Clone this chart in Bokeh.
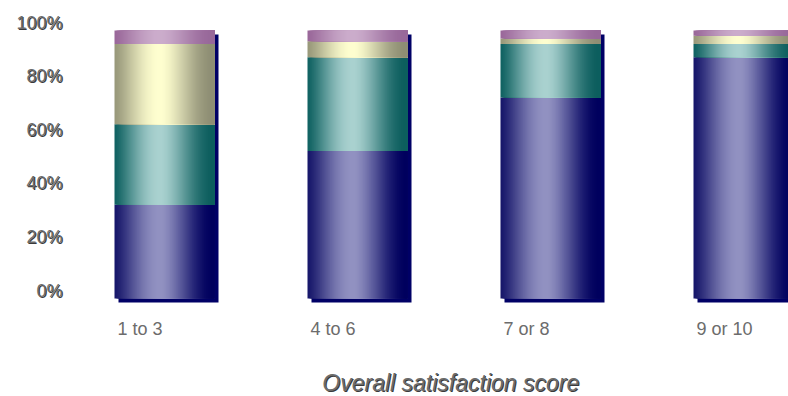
import numpy as np
from bokeh.plotting import figure
from bokeh.models import Range1d, ColumnDataSource
from bokeh.core.properties import value
from bokeh.embed import file_html
from bokeh.resources import INLINE

# ---- data -------------------------------------------------------------
categories = ["1 to 3", "4 to 6", "7 or 8", "9 or 10"]
# percentage shares, stacked from the bottom segment upwards
share_navy = [35, 55, 75, 90]
share_teal = [30, 35, 20, 5]
share_cream = [30, 6, 2, 3]
share_mauve = [5, 4, 3, 2]
y_ticks = [0, 20, 40, 60, 80, 100]
y_tick_labels = ["0%", "20%", "40%", "60%", "80%", "100%"]
x_title = "Overall  satisfaction score"

# ---- layout (pixels) --------------------------------------------------
W, H = 788, 396
PX_PER_CAT = 193.0      # horizontal distance between bar centres
PX_PER_PCT = 2.68       # vertical pixels per percentage point
X0_PX = 164.0           # centre of first bar
Y0_PX = 298.0           # baseline of bars
BAR_W = 100.0 / PX_PER_CAT

x_range = Range1d(-X0_PX / PX_PER_CAT, (W - X0_PX) / PX_PER_CAT)
y_range = Range1d((Y0_PX - H) / PX_PER_PCT, Y0_PX / PX_PER_PCT)

p = figure(width=W, height=H, x_range=x_range, y_range=y_range,
           output_backend="svg", toolbar_location=None,
           min_border=0, min_border_left=0, min_border_right=0,
           min_border_top=0, min_border_bottom=0)
p.axis.visible = False
p.grid.visible = False
p.outline_line_color = None
p.background_fill_color = "white"
p.border_fill_color = "white"

# ---- bar shadows ------------------------------------------------------
xs = np.arange(len(categories), dtype=float)
totals = np.array(share_navy) + np.array(share_teal) + np.array(share_cream) + np.array(share_mauve)
dx = 4.0 / PX_PER_CAT
dy = 4.0 / PX_PER_PCT
p.quad(left=xs - BAR_W / 2 + dx, right=xs + BAR_W / 2 + dx,
       bottom=np.zeros_like(xs) - dy, top=totals - dy,
       fill_color="#000066", line_color=None)

# ---- cylinder-like horizontal shading ---------------------------------
def hex_rgb(h):
    h = h.lstrip("#")
    return np.array([int(h[i:i + 2], 16) for i in (0, 2, 4)], dtype=float)

def shade(left_c, peak_c, right_c, t, peak=0.46):
    l, m, r = hex_rgb(left_c), hex_rgb(peak_c), hex_rgb(right_c)
    if t <= peak:
        u = t / peak
        u = np.sin(u * np.pi / 2) ** 1.3
        c = l + (m - l) * u
    else:
        u = (t - peak) / (1 - peak)
        u = np.sin(u * np.pi / 2) ** 1.6
        c = m + (r - m) * u
    c = np.clip(c, 0, 255).astype(int)
    return "#%02x%02x%02x" % tuple(c)

series = [
    (share_navy, ("#16166a", "#9292c2", "#00005e")),
    (share_teal, ("#106262", "#aad2d0", "#0c5e5e")),
    (share_cream, ("#98987a", "#ffffd0", "#8e8e74")),
    (share_mauve, ("#9a689a", "#ccadcc", "#98689a")),
]

# Each strip runs from its own start to the bar's right edge; later strips
# paint over earlier ones, so no seams appear between neighbours.
N = 50
L, R, B, T, C = [], [], [], [], []
bottoms = np.zeros(len(categories))
for vals, (lc, pc, rc) in series:
    vals = np.array(vals, dtype=float)
    for i, x in enumerate(xs):
        left = x - BAR_W / 2
        right = x + BAR_W / 2
        step = BAR_W / N
        for k in range(N):
            t = (k + 0.5) / N
            L.append(left + k * step)
            R.append(right)
            B.append(bottoms[i])
            T.append(bottoms[i] + vals[i])
            C.append(shade(lc, pc, rc, t))
    bottoms += vals

strips = ColumnDataSource(dict(left=L, right=R, bottom=B, top=T, color=C))
p.quad(left="left", right="right", bottom="bottom", top="top",
       fill_color="color", line_color=None, source=strips)

# ---- texts ------------------------------------------------------------
FONT = value("Liberation Sans")

def label(x, y, text, size, align, baseline, x_off=0, y_off=0,
          style="normal", shadow=True):
    src = ColumnDataSource(dict(x=x, y=y, text=text))
    if shadow:
        p.text(x="x", y="y", text="text", source=src, text_font=FONT,
               text_font_size=size, text_align=align, text_baseline=baseline,
               text_font_style=style, text_color="#3a3a3a",
               x_offset=x_off + 1, y_offset=y_off + 1)
    p.text(x="x", y="y", text="text", source=src, text_font=FONT,
           text_font_size=size, text_align=align, text_baseline=baseline,
           text_font_style=style, text_color="#6c6c6c",
           x_offset=x_off, y_offset=y_off)

# y tick labels
label_x = (62.0 - X0_PX) / PX_PER_CAT
label([label_x] * len(y_ticks), y_ticks, y_tick_labels, "18px",
      "right", "middle", y_off=-8)

# category labels under each bar
label(list(xs - BAR_W / 2), [0] * len(categories), categories, "18px",
      "left", "middle", x_off=3, y_off=30, shadow=False)

# axis title
label([(xs[1] + xs[2]) / 2], [0], [x_title], "23px",
      "center", "middle", y_off=84, style="italic")

open("out.html", "w").write(file_html(p, INLINE))
